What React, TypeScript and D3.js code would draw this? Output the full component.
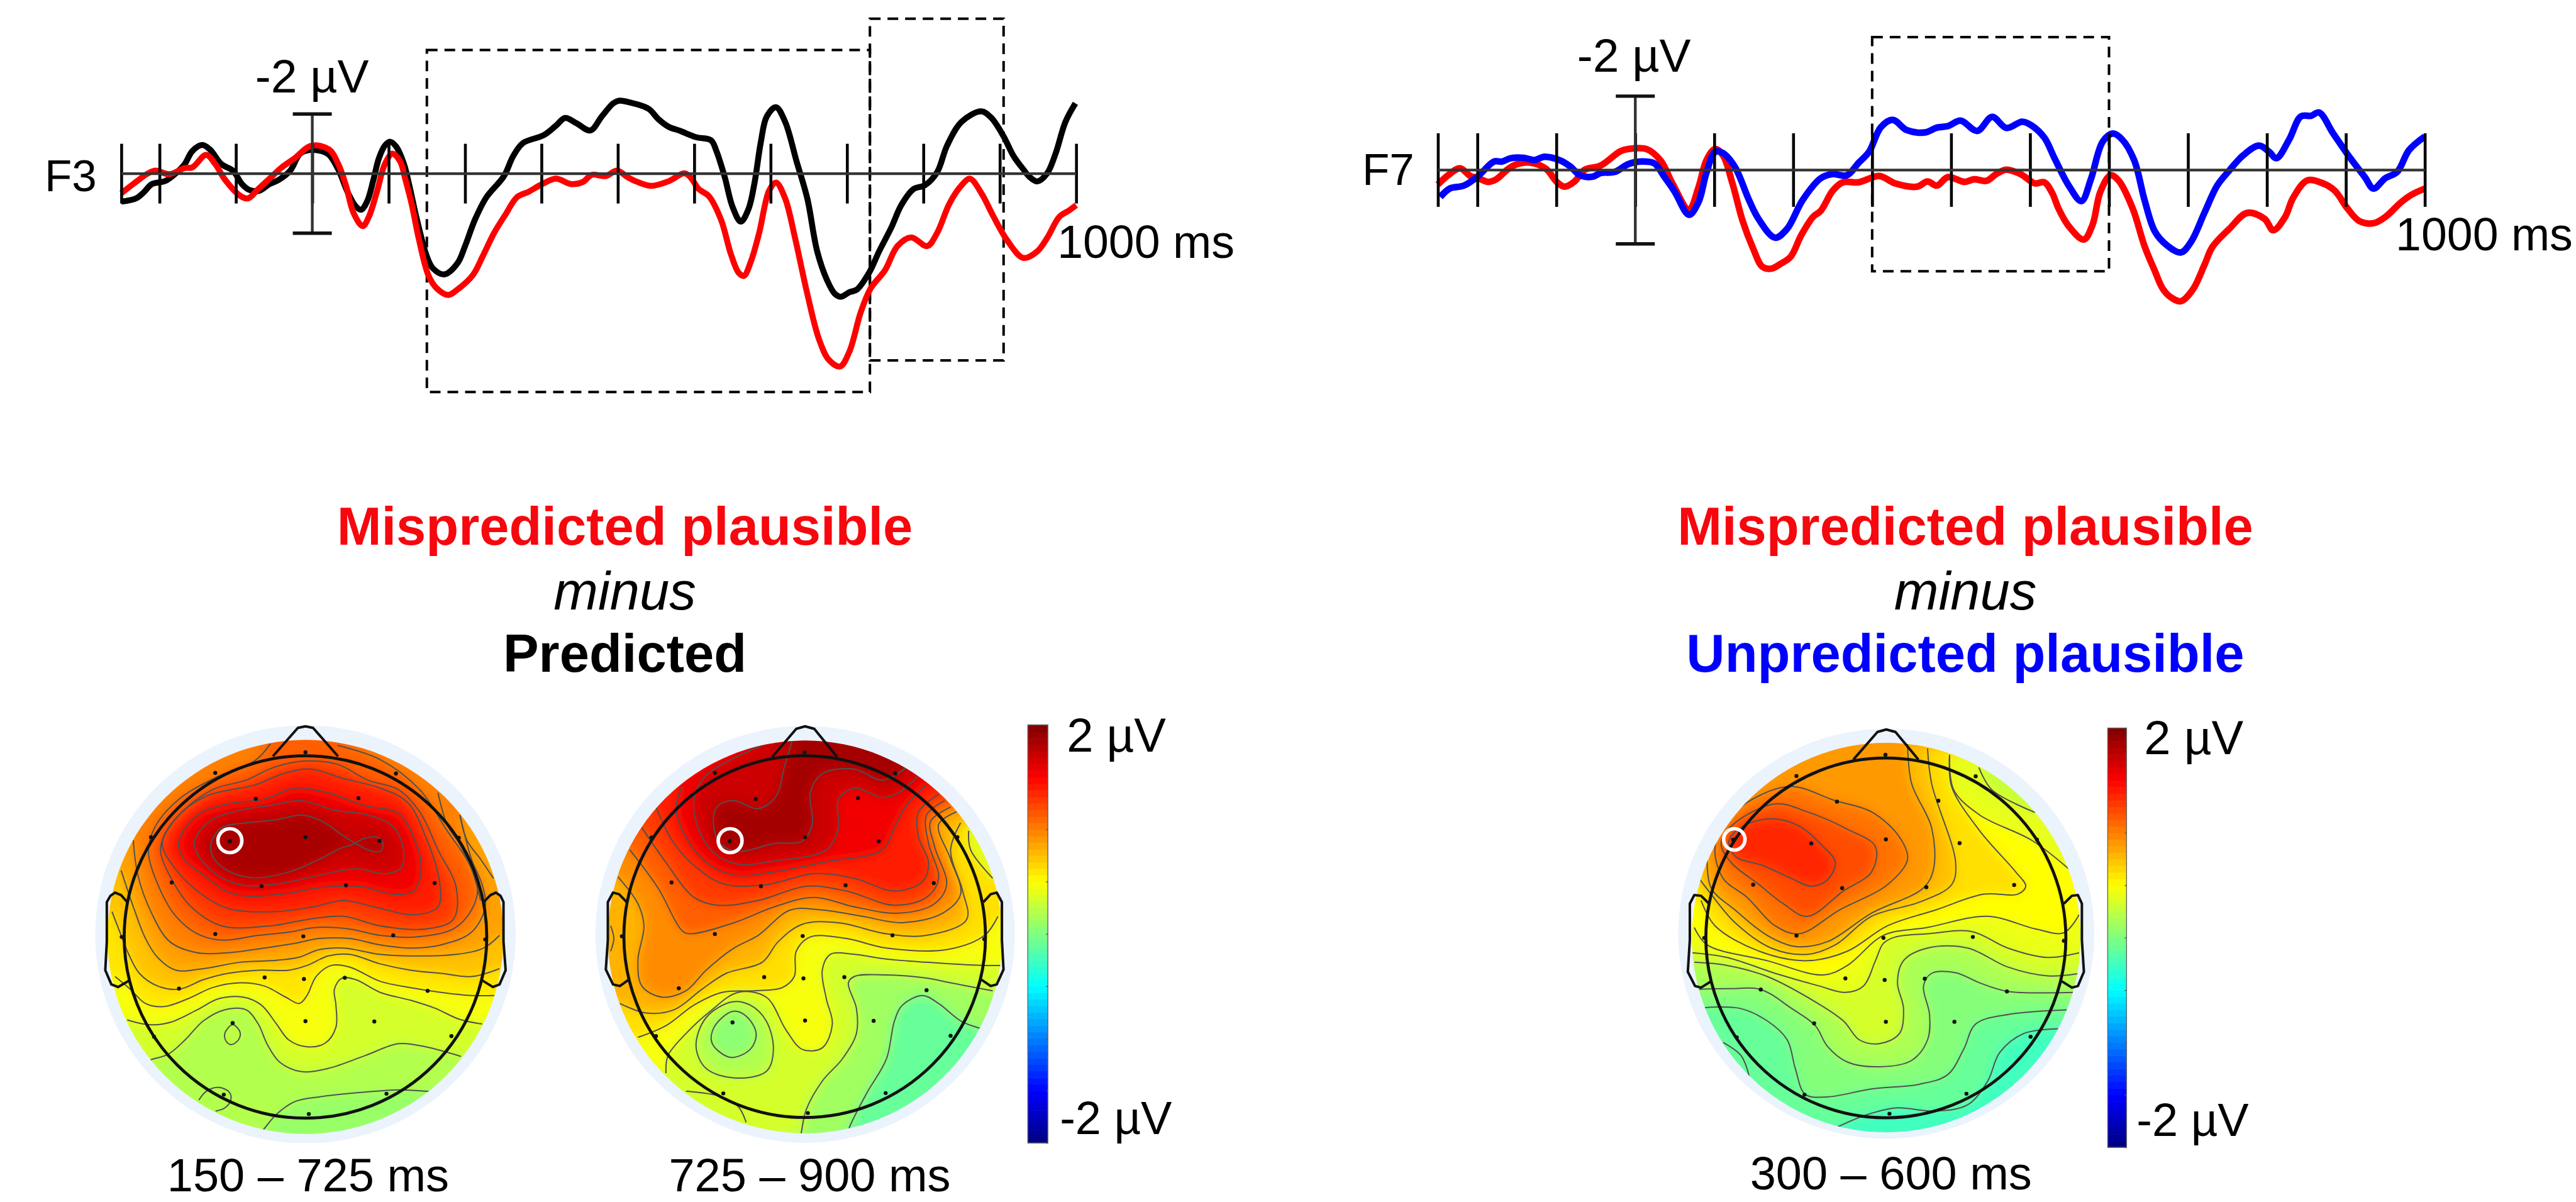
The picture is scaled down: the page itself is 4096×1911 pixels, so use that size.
import React, { useEffect, useRef } from "react";
import * as d3 from "d3";

type Pt = number[];
type Contour = { uV: number | null; path: Pt[]; loop?: boolean; wrap?: Pt[] };

// ERP traces, [ms, uV], negative up
const f3Predicted: Pt[] = [[-250,.94],[-230,.82],[-220,.61],[-210,.35],[-192,.24],[-177,-.05],[-167,-.32],[-157,-.76],[-144,-.96],[-134,-.81],[-119,-.32],[-104,-.1],[-92,.35],[-82,.55],[-69,.57],[-56,.35],[-44,.21],[-29,-.1],[-16,-.67],[-4,-.79],[12,-.76],[22,-.63],[34,-.14],[47,.66],[57,1.1],[64,1.21],[72,.92],[80,.21],[87,-.5],[95,-.94],[102,-1.07],[110,-.9],[120,-.32],[127,.39],[137,1.54],[150,2.78],[158,3.18],[173,3.38],[190,3.01],[200,2.43],[213,1.54],[228,.79],[251,.08],[263,-.59],[276,-1.03],[303,-1.29],[319,-1.61],[331,-1.87],[346,-1.69],[364,-1.45],[379,-1.92],[394,-2.36],[402,-2.45],[414,-2.4],[440,-2.18],[453,-1.83],[466,-1.58],[482,-1.43],[503,-1.22],[522,-1.12],[529,-.76],[540,.12],[550,1.1],[561,1.61],[571,1.19],[579,.3],[587,-1.03],[595,-1.92],[607,-2.23],[619,-1.74],[634,-.41],[648,.83],[661,2.61],[674,3.58],[684,4.03],[692,4.13],[703,3.98],[713,3.89],[729,3.32],[742,2.61],[758,1.81],[771,1.06],[787,.52],[802,.39],[818,-.05],[831,-.94],[850,-1.74],[876,-2.09],[889,-1.87],[905,-1.25],[918,-.59],[931,-.14],[939,.11],[949,.26],[962,-.01],[973,-.67],[986,-1.74],[999,-2.36]];
const f3Mispredicted: Pt[] = [[-250,.66],[-233,.32],[-215,-.01],[-205,-.1],[-187,.02],[-167,-.19],[-157,-.21],[-139,-.63],[-127,-.32],[-114,.21],[-94,.75],[-84,.83],[-71,.52],[-56,.17],[-41,-.19],[-24,-.5],[-1,-.94],[22,-.81],[34,-.32],[44,.39],[54,1.32],[66,1.76],[74,1.45],[85,.57],[95,-.32],[105,-.67],[115,-.41],[122,.21],[130,1.01],[140,2.25],[152,3.41],[163,3.85],[178,4.07],[190,3.89],[210,3.41],[223,2.78],[238,1.99],[253,1.37],[268,.79],[283,.61],[301,.35],[319,.17],[339,.35],[354,.28],[366,.04],[384,.08],[399,-.1],[413,.12],[424,.26],[443,.41],[466,.26],[487,-.01],[495,.12],[506,.52],[519,.75],[535,1.54],[548,2.7],[558,3.32],[565,3.43],[574,2.96],[585,1.99],[598,.57],[607,.3],[619,.83],[632,2.16],[648,4.03],[663,5.53],[676,6.24],[691,6.47],[703,5.98],[718,4.65],[731,3.85],[750,3.23],[766,2.43],[784,2.14],[805,2.43],[818,1.99],[834,1.01],[850,.39],[861,.17],[876,.66],[892,1.45],[910,2.25],[931,2.83],[949,2.61],[962,2.16],[978,1.45],[991,1.23],[1000,1.06]];
const f7Mispredicted: Pt[] = [[-250,.39],[-237,.14],[-222,-.05],[-209,.16],[-199,.22],[-186,.32],[-176,.25],[-161,-.03],[-151,-.15],[-133,-.2],[-113,-.03],[-100,.31],[-90,.45],[-77,.31],[-64,-.01],[-44,-.12],[-19,-.51],[-9,-.57],[14,-.57],[32,-.26],[47,.36],[68,1.07],[80,.47],[90,-.26],[101,-.57],[111,-.4],[123,.36],[136,1.38],[149,2.11],[161,2.62],[172,2.67],[184,2.54],[197,2.34],[210,1.77],[225,1.27],[235,1.1],[250,.56],[263,.33],[283,.33],[309,.16],[329,.36],[357,.45],[370,.31],[382,.42],[396,.19],[417,.32],[429,.25],[445,.29],[457,.11],[470,-.01],[488,.11],[506,.36],[518,.33],[528,.62],[536,1.04],[549,1.52],[568,1.88],[579,1.49],[589,.59],[602,.14],[612,.28],[630,1.04],[645,2.06],[658,2.73],[668,3.21],[678,3.44],[691,3.55],[706,3.24],[721,2.56],[731,2.08],[752,1.6],[775,1.16],[797,1.32],[808,1.63],[823,1.27],[833,.76],[851,.28],[871,.36],[886,.56],[902,1.04],[917,1.38],[935,1.44],[950,1.27],[970,.87],[983,.67],[1000,.5]];
const f7Unpredicted: Pt[] = [[-247,.73],[-235,.5],[-217,.42],[-199,.16],[-179,-.23],[-169,-.23],[-158,-.32],[-141,-.33],[-128,-.27],[-115,-.36],[-95,-.26],[-82,-.09],[-70,.14],[-54,.18],[-44,.08],[-26,.05],[-9,-.16],[7,-.23],[24,-.18],[37,.19],[50,.59],[68,1.21],[80,.87],[90,.08],[101,-.49],[111,-.46],[126,-.09],[144,.81],[156,1.32],[177,1.83],[192,1.6],[212,.81],[235,.22],[250,.11],[268,.14],[283,-.2],[296,-.49],[311,-1.16],[326,-1.36],[344,-1.08],[367,-1.02],[382,-1.15],[396,-1.19],[412,-1.34],[433,-1.06],[452,-1.44],[470,-1.14],[490,-1.31],[501,-1.22],[518,-.88],[531,-.32],[549,.42],[565,.84],[577,.25],[592,-.77],[605,-.99],[617,-.82],[632,-.26],[645,.81],[658,1.66],[673,2.03],[691,2.23],[704,1.94],[721,1.15],[737,.42],[752,.02],[770,-.4],[790,-.66],[803,-.49],[812,-.32],[828,-.82],[843,-1.45],[856,-1.47],[866,-1.56],[884,-.99],[904,-.37],[924,.19],[935,.5],[950,.22],[965,.05],[980,-.54],[1000,-.91]];

const erpTicks = [-250, -200, -100, 0, 100, 200, 300, 400, 500, 600, 700, 800, 900, 1000];

// analysis windows [from ms, to ms, top uV, bottom uV]
const f3Windows = [[150, 730, -4.15, 7.33], [730, 905, -5.2, 6.27]];
const f7Windows = [[300, 600, -3.6, 2.74]];

// Scalp maps, all positions on a 0-1568 grid laid over each map's crop
const map1Electrodes: Pt[] = [[755,152],[459,217],[1052,219],[592,299],[929,297],[248,420],[507,433],[755,420],[998,432],[1258,422],[316,563],[611,575],[888,572],[1179,565],[152,735],[459,726],[748,733],[1043,730],[1345,743],[340,898],[621,863],[750,868],[884,864],[1156,905],[516,1007],[755,1001],[981,1002],[258,1050],[1234,1048],[487,1233],[1021,1230],[766,1294]];
const map2Electrodes: Pt[] = [[596,152],[372,217],[822,219],[474,300],[729,297],[214,421],[409,433],[597,420],[781,433],[977,420],[264,563],[487,575],[698,572],[918,565],[140,733],[372,726],[591,732],[815,730],[1044,742],[282,897],[495,862],[593,866],[695,862],[900,903],[416,1005],[597,999],[768,1000],[225,1048],[960,1047],[393,1229],[798,1228],[604,1291]];
const map3Electrodes: Pt[] = [[595,160],[373,227],[820,228],[474,308],[727,305],[215,428],[410,440],[596,427],[780,439],[973,428],[265,570],[487,581],[697,578],[916,571],[143,738],[373,731],[590,738],[813,735],[1040,747],[284,901],[495,866],[593,871],[693,867],[898,907],[417,1008],[596,1003],[767,1003],[224,1052],[957,1050],[393,1233],[797,1230],[605,1293]];

const map1Contours: Contour[] = [
  { uV: .2, path: [[600,1365],[620,1340],[660,1295],[720,1255],[800,1240],[950,1225],[1060,1218],[1150,1222],[1240,1230]] },
  { uV: .33, path: [[190,1140],[250,1122],[305,1105],[360,1060],[420,1000],[490,965],[560,965],[600,1010],[630,1075],[670,1130],[740,1160],[830,1150],[950,1110],[1060,1072],[1140,1080],[1265,1112]] },
  { uV: .26, loop: true, path: [[516,1012],[490,1040],[495,1065],[512,1075],[535,1060],[540,1035]] },
  { uV: .47, path: [[170,997],[240,1012],[310,1005],[400,965],[470,930],[550,925],[610,950],[660,1010],[700,1060],[760,1082],[820,1070],[855,1020],[855,950],[850,900],[875,865],[920,870],[1000,910],[1100,935],[1180,960],[1260,995],[1335,1010]] },
  { uV: .6, path: [[130,860],[180,900],[230,945],[290,955],[370,930],[450,895],[540,880],[620,890],[690,925],[735,945],[760,920],[790,860],[840,825],[900,830],[1000,875],[1100,895],[1200,910],[1300,920],[1375,920]] },
  { uV: .74, path: [[120,655],[150,730],[175,790],[210,850],[270,890],[340,900],[420,870],[500,850],[600,840],[700,840],[760,825],[830,795],[900,790],[1000,820],[1100,840],[1200,850],[1300,860],[1392,835]] },
  { uV: .87, path: [[150,525],[190,640],[230,740],[270,800],[330,840],[420,835],[540,815],[640,810],[730,800],[800,775],[880,770],[1000,790],[1100,795],[1250,790],[1340,770],[1392,730]] },
  { uV: 1, path: [[190,430],[205,540],[250,660],[310,750],[400,785],[500,785],[620,770],[720,755],[800,740],[900,740],[1000,760],[1100,770],[1200,760],[1300,720],[1345,640],[1335,570],[1300,490],[1262,350]] },
  { uV: 1.13, path: [[640,125],[590,178],[460,232],[340,300],[260,390],[240,470],[280,590],[330,670],[400,725],[480,745],[600,730],[700,720],[790,705],[900,710],[1000,730],[1120,735],[1240,710],[1300,650],[1320,580],[1290,500],[1220,400],[1130,270],[1000,175],[860,130]] },
  { uV: 1.27, loop: true, path: [[285,430],[340,350],[450,270],[560,240],[650,200],[750,180],[860,190],[960,240],[1060,270],[1130,340],[1190,460],[1250,580],[1240,680],[1150,710],[1000,700],[880,670],[760,680],[640,700],[480,700],[380,640],[320,560],[280,470]] },
  { uV: 1.4, loop: true, path: [[285,440],[330,360],[430,290],[590,255],[680,220],[770,205],[880,235],[1000,265],[1090,310],[1150,420],[1195,560],[1190,640],[1110,665],[980,640],[880,620],[780,640],[660,655],[500,645],[400,590],[320,510]] },
  { uV: 1.55, loop: true, path: [[340,430],[400,350],[500,315],[620,300],[720,265],[830,280],[950,320],[1060,345],[1110,420],[1135,520],[1110,590],[1040,600],[930,575],[800,580],[680,600],[520,600],[420,540],[350,480]] },
  { uV: 1.7, loop: true, path: [[390,440],[440,370],[540,335],[640,320],[740,305],[850,335],[960,350],[1040,385],[1075,450],[1070,515],[1020,535],[920,520],[800,540],[680,565],[540,570],[440,520]] },
  { uV: 1.84, loop: true, path: [[445,440],[480,390],[560,375],[660,365],[745,350],[820,375],[870,410],[920,440],[960,460],[1000,465],[1010,440],[990,420],[945,425],[905,445],[870,455],[800,490],[700,530],[580,548],[490,520],[450,480]] },
  { uV: null, path: [[405,1250],[430,1222],[470,1210],[505,1225],[510,1250],[490,1275],[460,1285]] },
  { uV: null, path: [[1262,350],[1285,430],[1330,490],[1372,550]] },
  { uV: null, path: [[1190,280],[1220,380],[1260,440],[1300,520],[1330,620]] },
];

const map2Contours: Contour[] = [
  { uV: .13, path: [[700,1370],[708,1335],[750,1230],[800,1120],[820,1000],[840,950],[890,920],[930,945],[985,1000],[1030,1022],[1060,1030]] },
  { uV: .33, path: [[585,1370],[588,1350],[600,1280],[640,1190],[690,1120],[725,1040],[725,960],[705,880],[720,860],[800,855],[900,865],[960,880],[1065,905]] },
  { uV: .2, loop: true, path: [[415,940],[350,990],[325,1080],[350,1150],[420,1180],[500,1160],[518,1090],[500,1000],[460,950]] },
  { uV: .05, loop: true, path: [[416,970],[370,1020],[365,1070],[410,1115],[460,1090],[475,1040],[450,985]] },
  { uV: .47, path: [[250,1165],[255,1110],[300,1040],[360,970],[430,910],[500,925],[550,1030],[590,1090],[640,1085],[665,1010],[650,930],[640,840],[660,790],[720,790],[800,805],[900,815],[1040,825],[1090,825]] },
  { uV: .62, path: [[180,1052],[250,1015],[320,950],[390,910],[470,905],[540,895],[570,860],[575,780],[610,735],[700,740],[800,770],[950,775],[1045,730],[1078,670]] },
  { uV: .38, path: [[1005,400],[1010,460],[1065,550]], wrap: [[1568,550],[1568,300],[1005,300]] },
  { uV: .8, path: [[135,945],[200,975],[270,965],[340,900],[400,850],[490,815],[530,750],[590,695],[680,690],[800,725],[900,730],[1000,680],[990,590],[960,460],[985,375]] },
  { uV: .95, path: [[130,545],[180,630],[195,700],[180,810],[190,890],[240,925],[300,905],[350,840],[420,770],[480,730],[560,650],[640,650],[740,670],[840,690],[940,660],[985,600],[960,490],[930,380],[975,340]] },
  { uV: 1.13, path: [[160,460],[230,580],[290,715],[310,725],[420,690],[520,640],[620,610],[720,640],[830,660],[920,630],[950,570],[920,450],[910,370],[960,325]] },
  { uV: 1.27, path: [[190,390],[250,500],[320,610],[380,635],[480,620],[600,575],[700,590],[820,635],[900,610],[930,550],[905,440],[900,350],[945,305]] },
  { uV: 1.4, path: [[225,325],[270,440],[340,530],[400,570],[500,570],[620,535],[720,550],[820,590],[890,560],[905,500],[880,420],[880,340],[930,285]] },
  { uV: 1.55, path: [[290,260],[275,330],[300,420],[350,500],[420,540],[520,530],[640,500],[790,460],[820,390],[850,320],[900,255]] },
  { uV: 1.7, path: [[490,130],[350,225],[320,300],[330,390],[370,470],[430,505],[520,495],[650,460],[680,390],[680,300],[720,265],[790,295],[830,280],[880,225]] },
  { uV: 1.85, path: [[565,115],[545,200],[525,290],[480,330],[420,305],[380,320],[368,370],[385,440],[430,465],[520,440],[590,432],[615,380],[610,280],[640,220],[720,205],[790,240],[850,200],[880,170]] },
  { uV: null, path: [[300,1222],[390,1240],[430,1270],[450,1320]] },
  { uV: null, path: [[112,700],[120,740],[112,780]] },
];

const map3Contours: Contour[] = [
  { uV: -.1, path: [[440,1355],[475,1335],[540,1300],[620,1275],[720,1285],[800,1265],[850,1190],[880,1100],[940,1040],[1028,1025]] },
  { uV: .02, path: [[145,958],[230,960],[300,1000],[350,1060],[370,1150],[395,1232],[450,1240],[560,1215],[680,1200],[750,1170],[790,1090],[820,1010],[900,980],[1048,965]] },
  { uV: .17, path: [[130,900],[210,898],[284,901],[360,960],[420,1015],[450,1080],[500,1130],[580,1145],[660,1125],[700,1060],[705,980],[690,890],[710,850],[770,848],[830,880],[900,907],[1065,910]] },
  { uV: .33, path: [[118,815],[200,825],[300,860],[420,940],[490,1000],[530,1060],[580,1072],[630,1040],[640,960],[625,880],[640,810],[700,770],[800,770],[900,830],[1000,858],[1080,850]] },
  { uV: .42, path: [[112,785],[200,800],[320,850],[430,890],[495,910],[540,890],[570,810],[590,755],[620,735],[700,725],[810,718],[900,770],[1000,800],[1078,785]] },
  { uV: .5, path: [[118,705],[150,760],[300,810],[440,855],[500,825],[590,730],[700,705],[850,670],[970,710],[1040,722],[1078,665]] },
  { uV: .4, path: [[755,160],[765,270],[830,350],[960,430],[1052,520]], wrap: [[1568,520],[1568,0],[755,0]] },
  { uV: .28, path: [[828,200],[860,270],[968,342]], wrap: [[1568,342],[1568,0],[828,0]] },
  { uV: .62, path: [[135,620],[170,700],[280,780],[400,810],[500,780],[600,700],[720,650],[840,600],[925,600],[945,575],[920,530],[830,400],[760,260],[755,160]] },
  { uV: .75, path: [[130,550],[160,600],[220,690],[310,770],[400,790],[470,760],[560,670],[680,625],[760,570],[770,500],[710,250],[700,140]] },
  { uV: .9, path: [[150,480],[160,580],[220,650],[300,730],[370,765],[450,750],[560,660],[690,580],[715,520],[710,390],[660,250],[650,125]] },
  { uV: 1.05, loop: true, path: [[210,350],[350,260],[470,305],[560,340],[630,420],[650,490],[600,570],[480,650],[380,725],[320,700],[250,610],[190,550],[170,450]] },
  { uV: 1.2, loop: true, path: [[215,380],[320,315],[400,340],[500,395],[570,450],[560,530],[490,590],[400,670],[340,630],[280,570],[210,500],[185,440]] },
  { uV: 1.35, loop: true, path: [[240,385],[310,362],[380,385],[440,450],[470,500],[450,555],[410,575],[360,550],[290,510],[220,480],[205,430]] },
  { uV: null, path: [[190,1068],[235,1110],[255,1175]] },
];

const map1Nose: Pt[] = [[648,165],[730,75],[755,70],[780,75],[862,165]];
const map1EarL: Pt[] = [[170,625],[150,603],[130,595],[115,605],[103,625],[103,750],[98,840],[118,885],[140,893],[178,872]];
const map1EarR: Pt[] = [[1340,625],[1362,603],[1380,595],[1395,605],[1405,625],[1405,750],[1412,840],[1392,885],[1370,893],[1335,872]];
const map2Nose: Pt[] = [[515,167],[575,78],[597,70],[620,78],[677,167]];
const map2EarL: Pt[] = [[152,625],[133,600],[118,595],[105,625],[105,745],[100,838],[118,885],[135,890],[157,870]];
const map2EarR: Pt[] = [[1042,625],[1060,600],[1075,595],[1088,625],[1088,745],[1092,838],[1075,885],[1060,890],[1037,870]];
const map3Nose: Pt[] = [[515,175],[575,88],[597,80],[620,88],[677,175]];
const map3EarL: Pt[] = [[155,630],[135,605],[118,603],[107,630],[107,745],[102,845],[120,890],[135,895],[160,875]];
const map3EarR: Pt[] = [[1040,630],[1060,605],[1075,603],[1085,630],[1085,745],[1090,845],[1075,890],[1060,895],[1035,875]];

const colorbarTicks = [-2, -1.5, -1, -.5, 0, .5, 1, 1.5, 2];

const FONT = '"Liberation Sans", Arial, sans-serif';

const jet = d3.scaleLinear<string>()
  .domain([-2, -1.5, -.5, .5, 1.5, 2])
  .range(["#00007f", "#0000ff", "#00ffff", "#ffff00", "#ff0000", "#7f0000"])
  .clamp(true);

function label(g: any, text: string, x: number, y: number, size: number, opts: any = {}) {
  g.append("text")
    .attr("x", x)
    .attr("y", y)
    .attr("font-family", FONT)
    .attr("font-size", size)
    .attr("font-weight", opts.weight || "normal")
    .attr("font-style", opts.style || "normal")
    .attr("fill", opts.fill || "#000")
    .attr("text-anchor", opts.anchor || "start")
    .text(text);
}

function drawErp(root: any, cfg: any) {
  const g = root.append("g");
  const x = d3.scaleLinear().domain([-250, 1000]).range(cfg.xRange);
  const y = d3.scaleLinear().domain([-2, 2]).range(cfg.yRange);

  g.selectAll(".window")
    .data(cfg.windows)
    .join("rect")
    .attr("x", (d: number[]) => x(d[0]))
    .attr("width", (d: number[]) => x(d[1]) - x(d[0]))
    .attr("y", (d: number[]) => y(d[2]))
    .attr("height", (d: number[]) => y(d[3]) - y(d[2]))
    .attr("fill", "none")
    .attr("stroke", "#000")
    .attr("stroke-width", 4)
    .attr("stroke-dasharray", "17 11");

  const line = d3.line<Pt>()
    .x((d) => x(d[0]))
    .y((d) => y(d[1]))
    .curve(d3.curveCatmullRom.alpha(0.5));

  cfg.traces.forEach((t: any) => {
    g.append("path")
      .attr("d", line(t.data))
      .attr("fill", "none")
      .attr("stroke", t.color)
      .attr("stroke-width", cfg.lineWidth)
      .attr("stroke-linejoin", "round");
  });

  // the axis sits on top of the traces
  const tickLen = cfg.tickLen;
  const axis = d3.axisBottom(x).tickValues(erpTicks).tickSize(tickLen * 2).tickFormat(() => "");
  const ag = g.append("g").attr("transform", `translate(0,${y(0) - tickLen})`).call(axis);
  ag.select(".domain").remove();
  ag.selectAll("line").attr("stroke", "#000").attr("stroke-width", 4.6);

  g.append("line")
    .attr("x1", x(-250)).attr("x2", x(1000))
    .attr("y1", y(0)).attr("y2", y(0))
    .attr("stroke", "#333").attr("stroke-width", 4.2);

  g.append("line")
    .attr("x1", x(0)).attr("x2", x(0))
    .attr("y1", y(-2)).attr("y2", y(2))
    .attr("stroke", "#333").attr("stroke-width", 4.4);
  [-2, 2].forEach((v) => {
    g.append("line")
      .attr("x1", x(0) - 31).attr("x2", x(0) + 31)
      .attr("y1", y(v)).attr("y2", y(v))
      .attr("stroke", "#111").attr("stroke-width", 5.4);
  });

  label(g, cfg.name, cfg.name === "F3" ? 71 : 2167, cfg.nameY, 71);
  label(g, "-2 µV", cfg.scaleLabel[0], cfg.scaleLabel[1], cfg.scaleSize);
  label(g, "1000 ms", cfg.endLabel[0], cfg.endLabel[1], 73.5);
}

function drawMap(root: any, cfg: any) {
  const g = root.append("g");
  const sx = d3.scaleLinear().domain([0, 1568]).range(cfg.xRange);
  const sy = d3.scaleLinear().domain([0, 1568]).range([1120, 1910]);
  const id = cfg.id;
  const defs = g.append("defs");

  defs.append("clipPath").attr("id", `${id}-field`)
    .append("ellipse")
    .attr("cx", sx(cfg.field[0])).attr("cy", sy(cfg.field[1]))
    .attr("rx", sx(cfg.field[2]) - sx(0)).attr("ry", sy(cfg.field[3]) - sy(0));
  defs.append("clipPath").attr("id", `${id}-halo`)
    .append("rect")
    .attr("x", sx(0)).attr("width", sx(1568) - sx(0))
    .attr("y", sy(0)).attr("height", sy(cfg.haloBottom) - sy(0));
  const blur = defs.append("filter").attr("id", `${id}-blur`)
    .attr("filterUnits", "userSpaceOnUse")
    .attr("x", sx(0) - 50).attr("y", 1050)
    .attr("width", sx(1568) - sx(0) + 100).attr("height", 900);
  blur.append("feGaussianBlur").attr("stdDeviation", 9);

  g.append("ellipse")
    .attr("clip-path", `url(#${id}-halo)`)
    .attr("cx", sx(cfg.halo[0])).attr("cy", sy(cfg.halo[1]))
    .attr("rx", sx(cfg.halo[2]) - sx(0)).attr("ry", sy(cfg.halo[3]) - sy(0))
    .attr("fill", "#ebf3fd");

  const field = g.append("g").attr("clip-path", `url(#${id}-field)`);
  const fills = field.append("g").attr("filter", `url(#${id}-blur)`);

  fills.append("rect")
    .attr("x", sx(0)).attr("y", sy(0))
    .attr("width", sx(1568) - sx(0)).attr("height", sy(1568) - sy(0))
    .attr("fill", jet(cfg.baseUV));

  const openLine = d3.line<Pt>().x((d) => sx(d[0])).y((d) => sy(d[1])).curve(d3.curveCatmullRom.alpha(0.5));
  const loopLine = d3.line<Pt>().x((d) => sx(d[0])).y((d) => sy(d[1])).curve(d3.curveCatmullRomClosed.alpha(0.5));

  cfg.contours.forEach((c: Contour) => {
    if (c.uV === null) return;
    let d = (c.loop ? loopLine : openLine)(c.path) as string;
    if (!c.loop) {
      const first = c.path[0];
      const last = c.path[c.path.length - 1];
      const wrap = c.wrap || [[1568, last[1]], [1568, 0], [0, 0], [0, first[1]]];
      d += wrap.map((p) => `L${sx(p[0])},${sy(p[1])}`).join("") + "Z";
    }
    fills.append("path").attr("d", d).attr("fill", jet(c.uV));
  });

  cfg.contours.forEach((c: Contour) => {
    field.append("path")
      .attr("d", (c.loop ? loopLine : openLine)(c.path))
      .attr("fill", "none")
      .attr("stroke", "#505050")
      .attr("stroke-width", 2);
  });

  g.append("ellipse")
    .attr("cx", sx(cfg.head[0])).attr("cy", sy(cfg.head[1]))
    .attr("rx", sx(cfg.head[2]) - sx(0)).attr("ry", sy(cfg.head[3]) - sy(0))
    .attr("fill", "none").attr("stroke", "#111").attr("stroke-width", 4.8);

  const outline = d3.line<Pt>().x((d) => sx(d[0])).y((d) => sy(d[1]));
  [cfg.nose, cfg.earL, cfg.earR].forEach((p: Pt[]) => {
    g.append("path").attr("d", outline(p))
      .attr("fill", "none").attr("stroke", "#111").attr("stroke-width", 4).attr("stroke-linejoin", "round");
  });

  g.selectAll(".electrode")
    .data(cfg.electrodes)
    .join("circle")
    .attr("cx", (d: Pt) => sx(d[0]))
    .attr("cy", (d: Pt) => sy(d[1]))
    .attr("r", 3.2)
    .attr("fill", "#111");

  g.append("circle")
    .attr("cx", sx(cfg.selected[0])).attr("cy", sy(cfg.selected[1]))
    .attr("r", cfg.selected[2])
    .attr("fill", "none").attr("stroke", "#fff").attr("stroke-width", 5.6);

  label(g, cfg.time, cfg.timeAt[0], cfg.timeAt[1], 74);
}

function drawColorbar(root: any, cfg: any) {
  const g = root.append("g");
  const y = d3.scaleLinear().domain([-2, 2]).range(cfg.yRange);
  const steps = d3.range(-2, 2, 4 / 64);
  g.selectAll(".band")
    .data(steps)
    .join("rect")
    .attr("x", cfg.x)
    .attr("width", cfg.w)
    .attr("y", (d: number) => y(d + 4 / 64))
    .attr("height", (d: number) => y(d) - y(d + 4 / 64) + 0.6)
    .attr("fill", (d: number) => jet(d + 2 / 64));
  g.append("rect")
    .attr("x", cfg.x).attr("y", cfg.yRange[1])
    .attr("width", cfg.w).attr("height", cfg.yRange[0] - cfg.yRange[1])
    .attr("fill", "none").attr("stroke", "#666").attr("stroke-width", 1.4);
  const axis = d3.axisRight(y).tickValues(colorbarTicks).tickSize(-3).tickFormat(() => "");
  const ag = g.append("g").attr("transform", `translate(${cfg.x + cfg.w},0)`).call(axis);
  ag.select(".domain").remove();
  ag.selectAll("line").attr("stroke", "#555").attr("stroke-width", 1.4);
  label(g, "2 µV", cfg.top[0], cfg.top[1], 76);
  label(g, "-2 µV", cfg.bottom[0], cfg.bottom[1], 74);
}

function drawTitle(root: any, cx: number, last: string, lastColor: string) {
  const g = root.append("g");
  const RED = "#f7070e";
  label(g, "Mispredicted plausible", cx, 866, 85, { weight: "bold", fill: RED, anchor: "middle" });
  label(g, "minus", cx, 969, 85, { style: "italic", anchor: "middle" });
  label(g, last, cx, 1069, 85, { weight: "bold", fill: lastColor, anchor: "middle" });
}

function App() {
  const svgRef = useRef<SVGSVGElement | null>(null);

  useEffect(() => {
    const svg = d3.select(svgRef.current);
    svg.selectAll("*").remove();
    const root = svg.append("g").attr("transform", `scale(${4096 / 4098})`);

    drawErp(root, {
      name: "F3", nameY: 304, xRange: [193, 1712], yRange: [181.4, 371], tickLen: 47.5, lineWidth: 9.5,
      windows: f3Windows, scaleLabel: [406, 147], scaleSize: 75, endLabel: [1682, 410],
      traces: [{ data: f3Predicted, color: "#000" }, { data: f3Mispredicted, color: "#ff0000" }],
    });
    drawErp(root, {
      name: "F7", nameY: 294.5, xRange: [2287.5, 3857.5], yRange: [153, 388], tickLen: 58.5, lineWidth: 10.5,
      windows: f7Windows, scaleLabel: [2509, 114.5], scaleSize: 75, endLabel: [3811, 398],
      traces: [{ data: f7Mispredicted, color: "#ff0000" }, { data: f7Unpredicted, color: "#0000ff" }],
    });

    drawTitle(root, 994, "Predicted", "#000");
    drawTitle(root, 3126.5, "Unpredicted plausible", "#0000ff");

    drawMap(root, {
      id: "m1", xRange: [120, 880], field: [755, 735, 650, 622], halo: [755, 727, 690, 660], haloBottom: 1385,
      head: [755, 735, 595, 572], nose: map1Nose, earL: map1EarL, earR: map1EarR, baseUV: .1,
      contours: map1Contours, electrodes: map1Electrodes, selected: [507, 431, 19],
      time: "150 – 725 ms", timeAt: [266, 1895],
    });
    drawMap(root, {
      id: "m2", xRange: [900, 1900], field: [597, 735, 492, 620], halo: [597, 727, 523, 658], haloBottom: 1385,
      head: [596, 734, 451, 571], nose: map2Nose, earL: map2EarL, earR: map2EarR, baseUV: -.1,
      contours: map2Contours, electrodes: map2Electrodes, selected: [410, 431, 19],
      time: "725 – 900 ms", timeAt: [1064, 1895],
    });
    drawMap(root, {
      id: "m3", xRange: [2620, 3620], field: [597, 737, 485, 615], halo: [597, 725, 519, 647], haloBottom: 1372,
      head: [596, 738, 449, 568], nose: map3Nose, earL: map3EarL, earR: map3EarR, baseUV: -.25,
      contours: map3Contours, electrodes: map3Electrodes, selected: [218, 427, 17],
      time: "300 – 600 ms", timeAt: [2784, 1892],
    });

    drawColorbar(root, { x: 1635, w: 32, yRange: [1818, 1153], top: [1697, 1196], bottom: [1686, 1804] });
    drawColorbar(root, { x: 3353, w: 30, yRange: [1825, 1158], top: [3411, 1200], bottom: [3399, 1807] });
  }, []);

  return (
    <svg
      ref={svgRef}
      width={4096}
      height={1911}
      style={{ position: "absolute", left: 0, top: 0, display: "block", background: "#fff" }}
    />
  );
}

export default App;
